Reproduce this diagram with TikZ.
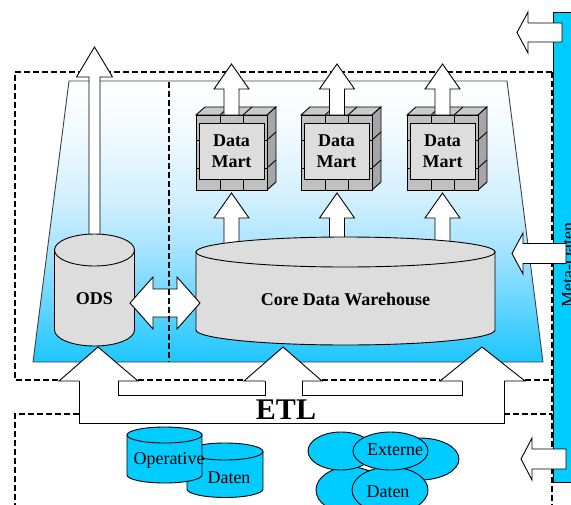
\documentclass[tikz,border=0pt]{standalone}
\usepackage{fontspec}
\setmainfont{Liberation Serif}
\usetikzlibrary{calc}
\definecolor{cyanbar}{HTML}{00CCFF}
\definecolor{cylgray}{HTML}{DDDDDD}
\definecolor{bricktop}{HTML}{CACACA}
\definecolor{brickfront}{HTML}{C0C0C0}
\definecolor{brickside}{HTML}{A6A6A6}
\definecolor{tbot}{HTML}{1EC6FF}
\definecolor{tone}{HTML}{38CCFF}
\definecolor{ttwo}{HTML}{6AD6FF}
\definecolor{tthree}{HTML}{A6E3FF}
\definecolor{tfour}{HTML}{D2F0FF}
\definecolor{tfive}{HTML}{F2FAFF}
\pgfdeclareverticalshading{trapshade}{100bp}{color(0bp)=(tbot); color(25bp)=(tbot); color(29bp)=(tone); color(36bp)=(ttwo); color(45bp)=(tthree); color(54bp)=(tfour); color(66bp)=(tfive); color(75bp)=(white); color(100bp)=(white)}
\tikzset{
  outl/.style={draw=black, line width=0.9pt},
  blockarrow/.style={fill=white, draw=black, line width=0.9pt, line join=miter},
  dashline/.style={draw=black, line width=1.8pt, dash pattern=on 6pt off 3pt},
  boldlbl/.style={font=\fontsize{18}{21}\selectfont\bfseries, align=center, inner sep=0pt},
  reglbl/.style={font=\fontsize{18}{21}\selectfont, inner sep=0pt},
}
% up block arrow: cx, tipY, baseY, botY, head half width, body half width
\newcommand{\uparrblk}[6]{%
  \draw[blockarrow] ({#1-#6},#4) -- ({#1-#6},#3) -- ({#1-#5},#3) -- (#1,#2) -- ({#1+#5},#3) -- ({#1+#6},#3) -- ({#1+#6},#4) -- cycle;}
% left block arrow: tipX, baseX, rightX, cy, head half h, body half h
\newcommand{\leftarrblk}[6]{%
  \draw[blockarrow] (#3,{#4-#6}) -- (#2,{#4-#6}) -- (#2,{#4-#5}) -- (#1,#4) -- (#2,{#4+#5}) -- (#2,{#4+#6}) -- (#3,{#4+#6}) -- cycle;}
% cylinder: cx, topY, botY, rx, ry, fill
\newcommand{\cylshape}[6]{%
  \draw[outl, fill=#6] ({#1-#4},#2) -- ({#1-#4},#3) arc[start angle=180, end angle=0, x radius=#4, y radius=#5] -- ({#1+#4},#2) -- cycle;
  \draw[outl, fill=#6] (#1,#2) ellipse[x radius=#4, y radius=#5];}
% data mart: front-left x, node name
\newcommand{\datamart}[2]{%
  \begin{scope}[shift={(#1,0)}]
    \draw[outl, fill=bricktop] (0,115) -- (9,107) -- (80,107) -- (71,115) -- cycle;
    \draw[outl, fill=brickside] (71,115) -- (80,107) -- (80,182) -- (71,190) -- cycle;
    \draw[outl, fill=brickfront] (0,115) rectangle (71,190);
    \draw[outl, fill=cylgray] (3,123) rectangle (68,179);
    \draw[outl] (24,115) -- (33,107) (47,115) -- (56,107);
    \draw[outl] (24,115) -- (24,123) (47,115) -- (47,123);
    \draw[outl] (24,179) -- (24,190) (47,179) -- (47,190);
    \draw[outl] (0,140) -- (3,140) (0,168) -- (3,168) (68,140) -- (71,140) (68,168) -- (71,168);
    \draw[outl] (71,140) -- (80,132) (71,168) -- (80,160);
    \node[boldlbl] (#2) at (35.5,151) {Data\\Mart};
  \end{scope}}
\begin{document}
\begin{tikzpicture}[x=1pt, y=-1pt]
\useasboundingbox (0,0) rectangle (571,504);
\clip (0,0) rectangle (571,504);
\fill[white] (0,0) rectangle (571,504);
% Meta-Daten bar
\draw[outl, fill=cyanbar] (553,12) rectangle (600,482);
\node[reglbl, rotate=90, anchor=north] (meta) at (562,265) {Meta-Daten};
% trapezoid
\path[shading=trapshade] (69,81) -- (507,81) -- (543,362) -- (33,362) -- cycle;
\draw[draw=black!75, line width=0.9pt] (69,81) -- (507,81) -- (543,362) -- (33,362) -- cycle;
% ETL shape
\fill[white] (79,381) -- (59,381) -- (98,347) -- (138,381) -- (244,381) -- (283,347) -- (322,381) -- (440,381) -- (482,347) -- (525,381) -- (504,381) -- (504,423) -- (79,423) -- cycle;
\draw[outl] (79,381) -- (79,423) -- (504,423) -- (504,381);
\draw[outl, line join=miter] (79,381) -- (59,381) -- (98,347) -- (138,381) -- (118,381);
\draw[outl, line join=miter] (265,381) -- (244,381) -- (283,347) -- (322,381) -- (302,381);
\draw[outl, line join=miter] (462,381) -- (440,381) -- (482,347) -- (525,381) -- (504,381);
\draw[outl] (118,381) -- (118,395) -- (265,395) -- (265,381);
\draw[outl] (302,381) -- (302,395) -- (462,395) -- (462,381);
\node[font=\fontsize{30}{30}\selectfont\bfseries, inner sep=0pt] (etl) at (286,410) {ETL};
% dashed frames
\draw[dashline] (552,72) -- (15,72) -- (15,380) -- (59,380);
\draw[dashline] (138,380) -- (244,380);
\draw[dashline] (322,380) -- (440,380);
\draw[dashline] (525,380) -- (552,380);
\draw[dashline] (79,414) -- (15,414) -- (15,510);
\draw[dashline] (504,414) -- (552,414);
\draw[dashline] (552,72) -- (552,510);
% arrows upward
\uparrblk{94.5}{47}{77}{245}{18}{5.5}
\uparrblk{231.5}{193}{218}{250}{17.5}{7.5}
\uparrblk{337}{193}{218}{250}{17.5}{7.5}
\uparrblk{442.5}{193}{218}{250}{17.5}{7.5}
% cylinders
\cylshape{94.5}{250}{330}{40}{16}{cylgray}
\node[boldlbl] (ods) at (94.5,299) {ODS};
\cylshape{345.5}{252}{330}{149.5}{15}{cylgray}
\node[boldlbl] (cdw) at (345.5,299) {Core Data Warehouse};
% double arrow
\draw[blockarrow] (130,303) -- (153,277) -- (153,289) -- (177,289) -- (177,277) -- (200,303) -- (177,329) -- (177,317) -- (153,317) -- (153,329) -- cycle;
\draw[dashline] (169,82) -- (169,362);
% data marts
\datamart{196}{dm1}
\datamart{301}{dm2}
\datamart{407}{dm3}
\uparrblk{231.5}{64}{89}{115}{17.5}{7.5}
\uparrblk{337}{64}{89}{115}{17.5}{7.5}
\uparrblk{442.5}{64}{89}{115}{17.5}{7.5}
% arrows from meta bar
\leftarrblk{517}{528}{562}{32.5}{20.5}{9.5}
\leftarrblk{512}{523}{566}{253.5}{20.5}{10}
\leftarrblk{521}{532}{566}{459}{21}{10}
% operative data
\cylshape{225}{451.5}{489}{38}{8.5}{cyanbar}
\cylshape{164.5}{435}{475}{37.5}{8}{cyanbar}
\node[reglbl] (op) at (169,460) {Operative};
\node[reglbl] (opd) at (229,478) {Daten};
% external data cloud
\draw[outl, fill=cyanbar] (350,490) ellipse[x radius=34, y radius=23];
\draw[outl, fill=cyanbar] (420,459) ellipse[x radius=39, y radius=21];
\draw[outl, fill=cyanbar] (341,451) ellipse[x radius=33, y radius=19];
\draw[outl, fill=cyanbar] (390,490) ellipse[x radius=38, y radius=23];
\draw[outl, fill=cyanbar] (390.5,451) ellipse[x radius=37.5, y radius=19];
\node[reglbl] (ext) at (395,450) {Externe};
\node[reglbl] (extd) at (388,492) {Daten};
\end{tikzpicture}
\end{document}
